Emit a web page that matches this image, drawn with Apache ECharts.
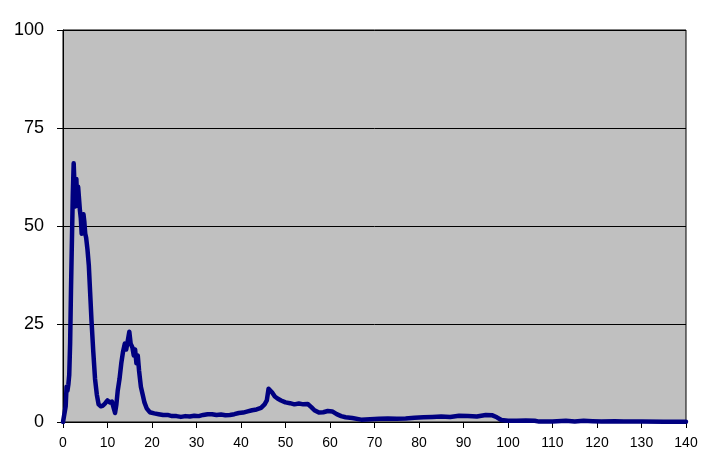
<!DOCTYPE html>
<html>
<head>
<meta charset="utf-8">
<script src="https://cdn.jsdelivr.net/npm/echarts@6/dist/echarts.min.js"></script>
<style>
html,body{margin:0;padding:0;background:#fff;}
#c{width:705px;height:471px;}
</style>
</head>
<body>
<div id="c"></div>
<script>
var xValues = [0,0.3,0.6,0.8,1.0,1.2,1.4,1.6,1.8,2.0,2.2,2.4,2.6,2.8,3.0,3.2,3.4,3.6,3.8,4.0,4.2,4.4,4.6,4.8,5.0,5.2,5.5,5.8,6.1,6.4,6.8,7.2,7.6,8.0,8.5,9.0,9.5,10.0,10.5,11.0,11.4,11.7,12.0,12.3,12.7,13.1,13.5,13.9,14.2,14.6,14.9,15.2,15.6,15.9,16.2,16.5,16.8,17.1,17.5,17.9,18.3,18.8,19.5,20.5,21.5,22.5,23.5,24.5,25.5,26.5,27.5,28.5,29.5,30.5,31.5,32.5,33.5,34.5,35.5,36.5,37.5,38.5,39.5,40.5,41.5,42.5,43.5,44.5,45.3,45.8,46.2,46.6,47.0,47.6,48.2,49,50,51,52,53,54,55,55.8,56.5,57.5,58.5,59.5,60.5,61.5,62.5,63.5,65,67,69,71,73,75,77,79,81,83,85,87,89,91,93,95,96.5,97.5,98.5,100,102,104,106,107,110,113,115,117,119,121,124,126,130,135,140];
var yValues = [0,0.5,4,9,8,9.5,12,20,34,46,58,66,60,55,62,56,60,57,54,52,48,50,53,51,48,47,44,40,33,26,18,11,7,4.5,4,4.2,4.8,5.5,5,5.2,3.5,2.3,4.5,8,11,15,18,20,18.5,21,23,20,19,17,18.5,15,17,13,9,7,5,3.5,2.5,2.2,2,1.8,1.8,1.5,1.5,1.3,1.5,1.4,1.6,1.5,1.8,2,2,1.8,1.9,1.7,1.8,2,2.3,2.4,2.7,3,3.2,3.6,4.5,5.5,8.5,9,7.5,6.5,6,5.5,5,4.8,4.5,4.7,4.5,4.6,3.8,3,2.4,2.5,2.8,2.7,2,1.5,1.2,1,0.6,0.7,0.8,0.9,0.8,0.9,1.1,1.2,1.3,1.4,1.3,1.6,1.5,1.4,1.8,1.7,1.2,0.5,0.3,0.3,0.4,0.3,0.1,0.1,0.3,0.1,0.3,0.2,0.1,0.2,0.1,0.1,0.05,0.05];
var xTicks = [0,10,20,30,40,50,60,70,80,90,100,110,120,130,140];
var yTicks = [0,25,50,75,100];

var seriesData = xValues.map(function(x,i){return [x, yValues[i]];});
var chart = echarts.init(document.getElementById('c'), null, {renderer:'canvas'});
chart.setOption({
  animation:false,
  grid:{left:63,right:19,top:30,bottom:49,show:true,backgroundColor:'#C0C0C0',borderColor:'#000',borderWidth:1},
  xAxis:{type:'value',min:xTicks[0],max:xTicks[xTicks.length-1],interval:10,
    axisLine:{lineStyle:{color:'#000',width:1}},
    axisTick:{show:true,length:6,inside:false,lineStyle:{color:'#000'}},
    axisLabel:{color:'#000',fontSize:14,fontFamily:'Liberation Sans, Arial',margin:14},
    splitLine:{show:false}},
  yAxis:{type:'value',min:yTicks[0],max:yTicks[yTicks.length-1],interval:25,
    axisLine:{show:true,lineStyle:{color:'#000',width:1}},
    axisTick:{show:true,length:6,lineStyle:{color:'#000'}},
    axisLabel:{color:'#000',fontSize:18,fontFamily:'Liberation Sans, Arial',margin:19},
    splitLine:{show:true,lineStyle:{color:'#000',width:1}}},
  series:[{type:'line',data:seriesData,showSymbol:false,symbol:'none',
    lineStyle:{color:'#000080',width:4.5,join:'round',cap:'round'}}]
});
</script>
</body>
</html>
